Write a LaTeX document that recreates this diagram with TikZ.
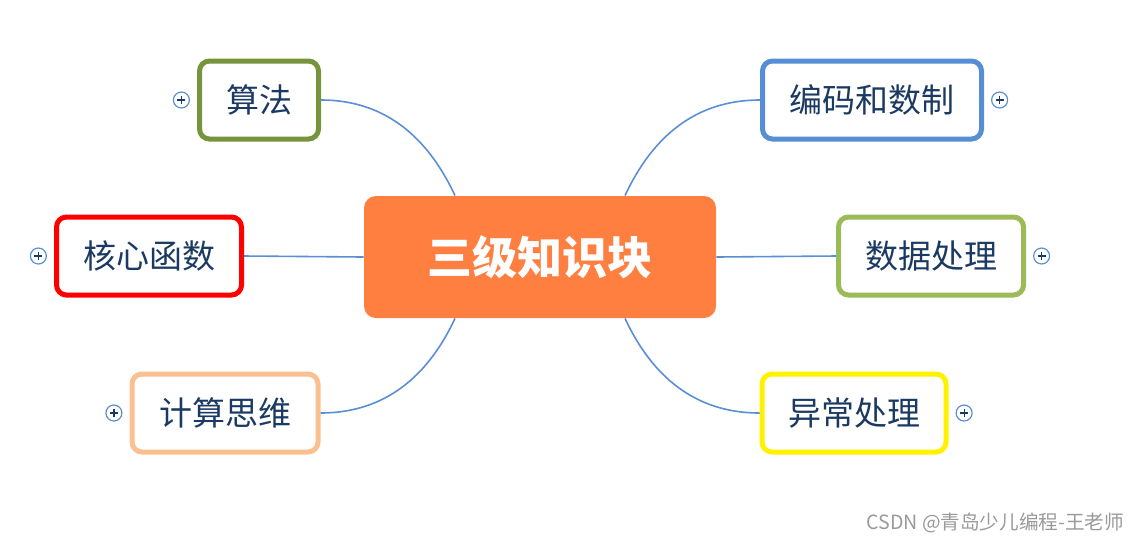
\documentclass[tikz,border=0pt]{standalone}
\usepackage{fontspec}
\setmainfont{Noto Sans CJK SC}
\usepackage{tikz}
\usetikzlibrary{positioning, calc}
\definecolor{RootOrange}{HTML}{FF7F41}
\definecolor{LinkBlue}{HTML}{5B8FD5}
\definecolor{TextNavy}{HTML}{1B3A63}
\definecolor{AlgGreen}{HTML}{77933C}
\definecolor{CodeBlue}{HTML}{558ED5}
\definecolor{DataGreen}{HTML}{9BBB59}
\definecolor{ThinkPeach}{HTML}{FAC090}
\definecolor{MarkGray}{HTML}{9A9A9A}

\begin{document}
\begin{tikzpicture}[
    x=0.5pt, y=-0.5pt,
    root/.style={fill=RootOrange, rounded corners=6pt, text=white,
                 minimum width=176pt, minimum height=61pt, inner sep=0pt,
                 font=\fontsize{22.5}{26}\selectfont\bfseries},
    topic/.style={draw, fill=white, line width=2.5pt, rounded corners=5pt,
                  minimum height=39pt, inner sep=0pt, text=TextNavy,
                  font=\fontsize{16.5}{20}\selectfont},
    fold/.style={circle, draw=LinkBlue, line width=0.6pt, fill=white,
                 minimum size=8pt, inner sep=0pt,
                 path picture={\draw[TextNavy, line width=0.6pt]
                   ([xshift=-2pt]path picture bounding box.center) -- ++(4pt,0)
                   ([yshift=-2pt]path picture bounding box.center) -- ++(0,4pt);}},
    link/.style={LinkBlue, line width=0.8pt},
  ]
    \useasboundingbox (0,0) rectangle (1145,543);
    % ---- center ----
    \node[root] (root) at (540,257) {三级知识块};
    % ---- left topics ----
    \node[topic, draw=AlgGreen, minimum width=59.5pt] (alg)   at (259,100) {算法};
    \node[topic, draw=red,      minimum width=92.5pt] (core)  at (149,256) {核心函数};
    \node[topic, draw=ThinkPeach, minimum width=93pt] (think) at (225,413) {计算思维};
    % ---- right topics ----
    \node[topic, draw=CodeBlue,  minimum width=109.5pt] (code) at (872,100) {编码和数制};
    \node[topic, draw=DataGreen, minimum width=92.5pt]  (data) at (931,256) {数据处理};
    \node[topic, draw=yellow,    minimum width=92pt]    (err)  at (854,413) {异常处理};
    % ---- fold markers ----
    \node[fold, left=3.5pt of alg]    (algf)   {};
    \node[fold, left=3.5pt of core]   (coref)  {};
    \node[fold, left=3.5pt of think]  (thinkf) {};
    \node[fold, right=3.5pt of code]  (codef)  {};
    \node[fold, right=3.5pt of data]  (dataf)  {};
    \node[fold, right=3.5pt of err]   (errf)   {};
    % ---- links ----
    \draw[link] (alg.east)   to[out=0, in=115]  ($(root.north)+(-85,0)$);
    \draw[link] (core.east)  -- (root.west);
    \draw[link] (think.east) to[out=0, in=245]  ($(root.south)+(-85,0)$);
    \draw[link] (code.west)  to[out=180, in=65] ($(root.north)+(85,0)$);
    \draw[link] (data.west)  -- (root.east);
    \draw[link] (err.west)   to[out=180, in=295] ($(root.south)+(85,0)$);
    % ---- watermark ----
    \node[text=MarkGray, font=\fontsize{9.8}{11}\selectfont, anchor=east] (mark)
      at (1131,523) {CSDN @青岛少儿编程-王老师};
  \end{tikzpicture}
\end{document}
